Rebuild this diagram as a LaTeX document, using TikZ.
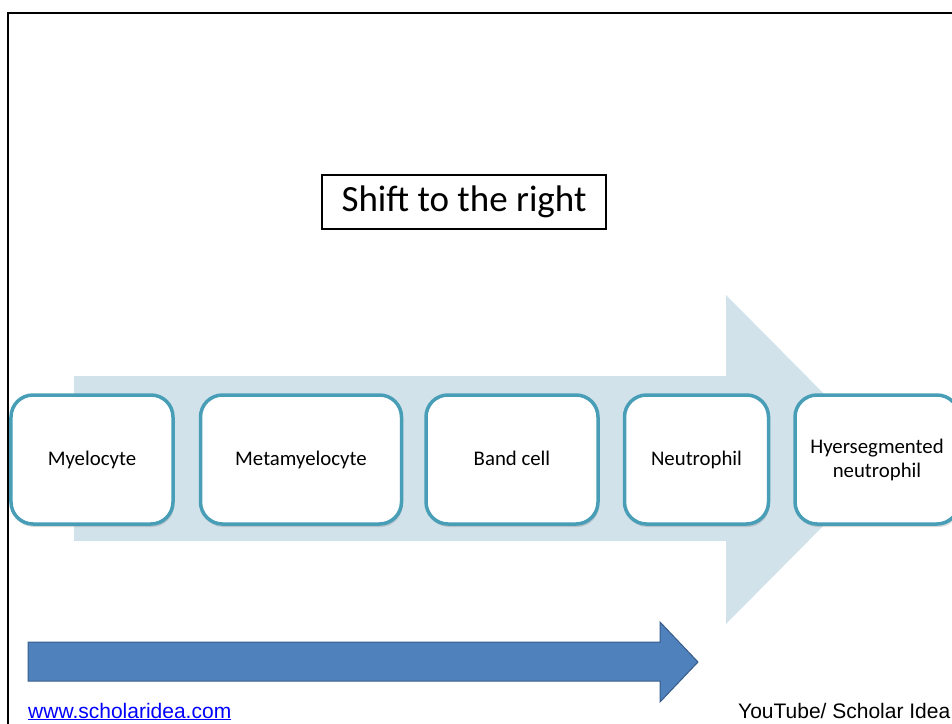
\documentclass[tikz,border=0pt]{standalone}
\usepackage{fontspec}
\setmainfont{Carlito}
\newfontfamily\footfont{Liberation Sans}
\definecolor{arrowBg}{RGB}{209, 226, 235}
\definecolor{cellEdge}{RGB}{72, 158, 182}
\definecolor{stepBlue}{RGB}{79, 129, 189}
\definecolor{stepEdge}{RGB}{56, 93, 138}
\definecolor{linkBlue}{RGB}{0, 0, 255}
\usetikzlibrary{positioning, shadows}

\begin{document}
\begin{tikzpicture}[
    x=1bp, y=-1bp,
    cell/.style={rectangle, rounded corners=22bp, draw=cellEdge, fill=white,
                 line width=3.5bp, minimum height=129bp, align=center,
                 inner sep=2bp, text depth=0.22em,
                 font=\fontsize{20.8bp}{24bp}\selectfont,
                 drop shadow={opacity=0.3, shadow xshift=1bp, shadow yshift=-3bp}},
    title/.style={rectangle, draw=black, line width=2bp, fill=white,
                  minimum width=284bp, minimum height=54bp,
                  font=\fontsize{37bp}{40bp}\selectfont},
    foot/.style={font=\footfont\fontsize{21bp}{24bp}\selectfont, inner sep=0pt},
  ]
    \useasboundingbox (0,0) rectangle (952,724);
    \clip (0,0) rectangle (952,724);

    % Slide frame
    \draw[line width=2bp] (952,13) -- (8,13) -- (8,724);

    % Background arrow
    \fill[arrowBg] (74,376) -- (726,376) -- (726,295) -- (889,459.5)
      -- (726,624) -- (726,541) -- (74,541) -- cycle;

    % Title
    \node[title] (T) at (464,202) {Shift to the right};

    % Maturation steps
    \node[cell, minimum width=162bp] (MY) at (92,459.5) {Myelocyte};
    \node[cell, minimum width=201bp, right=24bp of MY] (MM) {Metamyelocyte};
    \node[cell, minimum width=172bp, right=21bp of MM] (BC) {Band cell};
    \node[cell, minimum width=144bp, right=23bp of BC] (NE) {Neutrophil};
    \node[cell, minimum width=164bp, right=23bp of NE] (HN)
      {Hyersegmented\\neutrophil};

    % Direction arrow
    \filldraw[fill=stepBlue, draw=stepEdge, line width=1bp]
      (28,642) -- (660,642) -- (660,622) -- (698,662)
      -- (660,702) -- (660,681) -- (28,681) -- cycle;

    % Footer
    \node[foot, anchor=base west, text=linkBlue] (W) at (28,718)
      {\underline{www.scholaridea.com}};
    \node[foot, anchor=base west] (Y) at (738,718) {YouTube/ Scholar Idea};
  \end{tikzpicture}
\end{document}
